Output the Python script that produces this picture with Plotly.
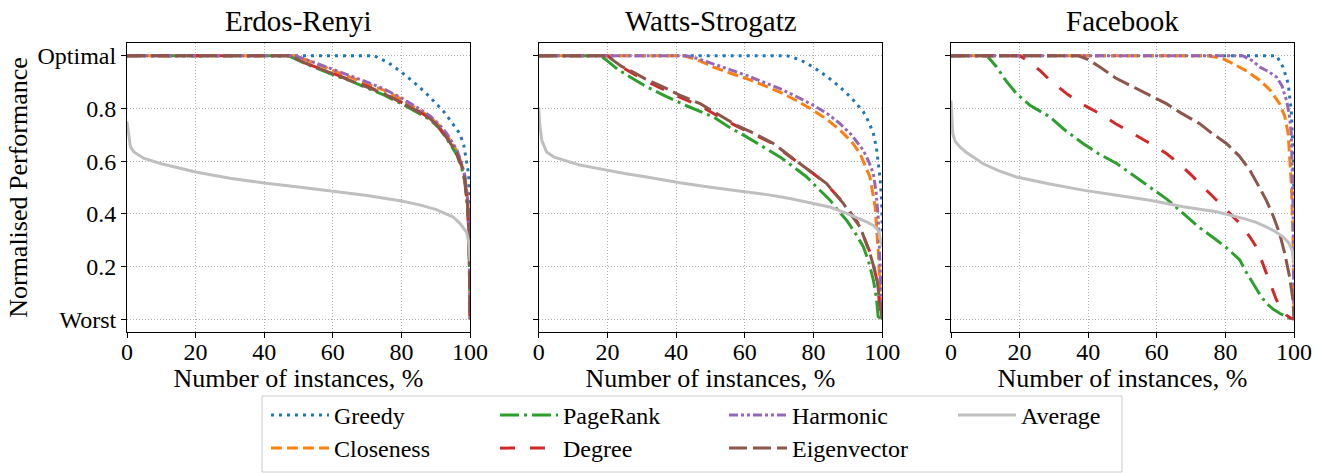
import plotly.graph_objects as go

# ---------------- data ----------------
panels = ["Erdos-Renyi", "Watts-Strogatz", "Facebook"]
series_names = ["Greedy", "Closeness", "PageRank", "Degree", "Harmonic", "Eigenvector", "Average"]

# Erdos-Renyi
er_greedy_x = [0, 72, 76, 80, 84, 87.3, 90, 92.2, 94.5, 97, 98.2, 99, 99.6, 100]
er_greedy_y = [1, 1, 0.975, 0.938, 0.895, 0.856, 0.82, 0.79, 0.75, 0.705, 0.66, 0.60, 0.55, 0.40]
er_close_x = [0, 49, 55, 60, 65, 70, 75, 80, 85, 88.3, 91, 93.2, 96.1, 97.5, 98.5, 99.3, 99.7, 100]
er_close_y = [1, 1, 0.97, 0.945, 0.92, 0.895, 0.868, 0.835, 0.795, 0.768, 0.735, 0.70, 0.64, 0.59, 0.54, 0.45, 0.35, 0.0]
er_pager_x = [0, 47, 52, 56, 60, 65, 70, 75, 80, 85, 88.3, 91, 93.2, 96.1, 97.5, 98.5, 99.3, 99.7, 100]
er_pager_y = [1, 1, 0.97, 0.948, 0.928, 0.905, 0.878, 0.85, 0.818, 0.783, 0.758, 0.725, 0.685, 0.625, 0.58, 0.52, 0.42, 0.32, 0.0]
er_degree_x = [0, 47.5, 52, 56, 60, 65, 70, 75, 80, 85, 88.3, 91, 93.2, 96.1, 97.5, 98.5, 99.3, 99.7, 100]
er_degree_y = [1, 1, 0.972, 0.952, 0.933, 0.91, 0.884, 0.856, 0.824, 0.789, 0.762, 0.728, 0.69, 0.63, 0.585, 0.53, 0.43, 0.33, 0.0]
er_harm_x = [0, 49, 55, 60, 65, 70, 75, 80, 85, 88.3, 91, 93.2, 96.1, 97.5, 98.5, 99.3, 99.7, 100]
er_harm_y = [1, 1, 0.972, 0.948, 0.925, 0.9, 0.873, 0.84, 0.8, 0.772, 0.74, 0.705, 0.645, 0.595, 0.545, 0.46, 0.38, 0.0]
er_eigen_x = [0, 47.5, 52, 56, 60, 65, 70, 75, 80, 85, 88.3, 91, 93.2, 96.1, 97.5, 98.5, 99.3, 99.7, 100]
er_eigen_y = [1, 1, 0.972, 0.952, 0.932, 0.908, 0.883, 0.855, 0.823, 0.788, 0.762, 0.728, 0.69, 0.63, 0.585, 0.53, 0.43, 0.33, 0.0]
er_avg_x = [0, 0.5, 1, 2, 5, 10, 20, 30, 40, 50, 60, 70, 80, 85, 90, 95, 97, 99, 99.7, 100]
er_avg_y = [0.75, 0.69, 0.655, 0.635, 0.61, 0.59, 0.559, 0.535, 0.517, 0.502, 0.487, 0.47, 0.449, 0.435, 0.417, 0.389, 0.365, 0.33, 0.29, 0.22]

# Watts-Strogatz
ws_greedy_x = [0, 72.2, 76, 79.9, 84, 87.7, 91, 94.5, 96, 97.4, 98.3, 98.8, 99.4, 99.8, 100]
ws_greedy_y = [1, 1, 0.985, 0.957, 0.92, 0.881, 0.84, 0.787, 0.75, 0.705, 0.65, 0.604, 0.53, 0.452, 0.33]
ws_close_x = [0, 42, 46, 50.8, 55, 60.5, 65, 70.2, 75, 79.9, 84, 87.7, 91, 93.5, 96.4, 97.9, 98.8, 99.5, 100]
ws_close_y = [1, 1, 0.985, 0.957, 0.937, 0.913, 0.89, 0.862, 0.83, 0.793, 0.757, 0.717, 0.675, 0.629, 0.54, 0.427, 0.263, 0.07, 0.0]
ws_pager_x = [0, 18, 19.8, 23, 26.6, 31, 36.3, 43, 50.8, 55, 60.5, 65, 70.2, 74, 78, 81, 84.8, 87, 89.6, 92, 94.5, 96, 97.4, 98.3, 98.8, 100]
ws_pager_y = [1, 1, 0.982, 0.948, 0.919, 0.885, 0.85, 0.81, 0.768, 0.732, 0.692, 0.658, 0.616, 0.58, 0.54, 0.5, 0.452, 0.415, 0.376, 0.33, 0.275, 0.22, 0.149, 0.08, 0.01, 0.0]
ws_degree_x = [0, 20, 21.7, 24, 27.5, 31, 36.3, 41, 47, 52, 57.6, 63, 68.3, 72, 76, 80, 83.8, 86, 88.7, 91, 93.5, 95, 96.4, 97.5, 98.4, 99.3, 100]
ws_degree_y = [1, 1, 0.982, 0.958, 0.932, 0.905, 0.872, 0.843, 0.81, 0.772, 0.733, 0.7, 0.665, 0.628, 0.59, 0.552, 0.512, 0.48, 0.442, 0.4, 0.355, 0.3, 0.255, 0.2, 0.15, 0.05, 0.0]
ws_harm_x = [0, 43, 46, 50.8, 55, 60.5, 65, 70.2, 75, 79.9, 84, 87.7, 91, 94.5, 96, 97.4, 98.2, 98.8, 99.5, 100]
ws_harm_y = [1, 1, 0.99, 0.97, 0.95, 0.925, 0.902, 0.875, 0.845, 0.812, 0.78, 0.742, 0.7, 0.641, 0.6, 0.553, 0.48, 0.389, 0.15, 0.0]
ws_eigen_x = [0, 20, 21.7, 24, 27.5, 31, 36.3, 41, 47, 52, 57.6, 63, 68.3, 72, 76, 80, 83.8, 86, 88.7, 91, 93.5, 95, 96.4, 97.5, 98.4, 99.3, 100]
ws_eigen_y = [1, 1, 0.982, 0.96, 0.938, 0.912, 0.881, 0.85, 0.818, 0.778, 0.736, 0.703, 0.667, 0.63, 0.591, 0.553, 0.515, 0.48, 0.439, 0.395, 0.351, 0.3, 0.25, 0.2, 0.16, 0.06, 0.0]
ws_avg_x = [0, 0.3, 0.9, 2.3, 4.5, 7.2, 12, 19.8, 25, 31.4, 41.1, 50, 60.5, 67, 73.1, 79.9, 85, 89.6, 93, 95.4, 97.5, 98.8, 100]
ws_avg_y = [0.805, 0.74, 0.679, 0.635, 0.615, 0.604, 0.585, 0.566, 0.553, 0.54, 0.518, 0.501, 0.484, 0.472, 0.458, 0.439, 0.425, 0.402, 0.385, 0.37, 0.355, 0.338, 0.275]

# Facebook
fb_greedy_x = [0, 94.9, 96.8, 98.3, 99.2, 99.7, 100]
fb_greedy_y = [1, 1, 0.957, 0.894, 0.793, 0.641, 0.45]
fb_close_x = [0, 75, 79, 82.2, 86, 90, 93, 95.8, 97.3, 98.3, 99.2, 99.7, 100]
fb_close_y = [1, 1, 0.99, 0.97, 0.943, 0.907, 0.87, 0.818, 0.77, 0.705, 0.515, 0.326, 0.0]
fb_pager_x = [0, 10.5, 13.3, 16, 19.1, 23, 28.8, 33, 38.5, 43, 48.3, 53, 58, 63, 67.7, 72, 77.4, 81, 84.2, 86, 88.1, 90, 91.9, 94, 95.8, 98.7, 100]
fb_pager_y = [1, 1, 0.957, 0.905, 0.856, 0.812, 0.768, 0.72, 0.667, 0.628, 0.591, 0.548, 0.503, 0.455, 0.402, 0.352, 0.301, 0.264, 0.225, 0.18, 0.136, 0.095, 0.061, 0.038, 0.023, 0.004, 0.0]
fb_degree_x = [0, 20, 23, 25.9, 29, 33.7, 38, 43.4, 48, 53.1, 58, 62.8, 67, 70.6, 74, 77.4, 81, 84.2, 87, 89, 90.5, 91.9, 93.5, 94.9, 96.5, 97.8, 99, 100]
fb_degree_y = [1, 1, 0.975, 0.944, 0.905, 0.856, 0.818, 0.78, 0.742, 0.705, 0.667, 0.629, 0.585, 0.54, 0.497, 0.452, 0.408, 0.364, 0.315, 0.275, 0.225, 0.174, 0.12, 0.073, 0.04, 0.016, 0.005, 0.0]
fb_harm_x = [0, 85, 88, 90, 92.5, 94.9, 96.5, 97.8, 98.6, 99.2, 99.7, 100]
fb_harm_y = [1, 1, 0.98, 0.957, 0.94, 0.919, 0.885, 0.831, 0.78, 0.705, 0.45, 0.0]
fb_eigen_x = [0, 37, 40, 43.4, 48, 53.1, 58, 62.8, 67, 72.5, 76, 80.3, 84, 87.1, 89.5, 91.9, 94, 95.8, 97.3, 98.7, 99.7, 100]
fb_eigen_y = [1, 1, 0.985, 0.957, 0.915, 0.881, 0.85, 0.818, 0.783, 0.742, 0.706, 0.667, 0.62, 0.566, 0.51, 0.452, 0.39, 0.326, 0.25, 0.162, 0.073, 0.0]
fb_avg_x = [0, 0.2, 0.5, 1.2, 2.6, 4.5, 6.5, 9.4, 14, 19.1, 28.8, 38.5, 48.3, 58, 67.7, 77.4, 85.1, 89, 91.9, 94.5, 96.8, 98.5, 99.5, 100]
fb_avg_y = [0.83, 0.76, 0.705, 0.675, 0.654, 0.633, 0.616, 0.59, 0.563, 0.54, 0.513, 0.49, 0.471, 0.452, 0.427, 0.408, 0.383, 0.368, 0.351, 0.333, 0.313, 0.29, 0.26, 0.212]

panel_data = [
    [(er_greedy_x, er_greedy_y), (er_close_x, er_close_y), (er_pager_x, er_pager_y), (er_degree_x, er_degree_y),
     (er_harm_x, er_harm_y), (er_eigen_x, er_eigen_y), (er_avg_x, er_avg_y)],
    [(ws_greedy_x, ws_greedy_y), (ws_close_x, ws_close_y), (ws_pager_x, ws_pager_y), (ws_degree_x, ws_degree_y),
     (ws_harm_x, ws_harm_y), (ws_eigen_x, ws_eigen_y), (ws_avg_x, ws_avg_y)],
    [(fb_greedy_x, fb_greedy_y), (fb_close_x, fb_close_y), (fb_pager_x, fb_pager_y), (fb_degree_x, fb_degree_y),
     (fb_harm_x, fb_harm_y), (fb_eigen_x, fb_eigen_y), (fb_avg_x, fb_avg_y)],
]

y_tick_vals = [0, 0.2, 0.4, 0.6, 0.8, 1.0]
y_tick_text = ["Worst", "0.2", "0.4", "0.6", "0.8", "Optimal"]
x_tick_vals = [0, 20, 40, 60, 80, 100]

# ---------------- styles ----------------
colors = ["#1f77b4", "#ff7f0e", "#2ca02c", "#d62728", "#9467bd", "#8c564b", "#bfbfbf"]
dashes = ["3px,5px", "11px,5px", "19px,5px,3px,5px", "15px,15px",
          "9px,3px,3px,3px,3px,3px", "18px,6px", "solid"]
# legend layout (matplotlib ncol=4, column-major): row 1 / row 2
legend_of = ["legend", "legend2", "legend", "legend2", "legend", "legend2", "legend"]
legend_rank = [1, 5, 2, 6, 3, 7, 4]

FONT = "Liberation Serif, Times New Roman, serif"
W, H = 1323, 473
ML, MR, MT, MB = 127, 29, 43, 141
PW = W - ML - MR
PH = H - MT - MB

domains = [[0.0, 343 / PW], [(538.7 - ML) / PW, (882.3 - ML) / PW], [(951 - ML) / PW, 1.0]]

fig = go.Figure()
for p in range(3):
    xa = "x" if p == 0 else f"x{p+1}"
    ya = "y" if p == 0 else f"y{p+1}"
    for s, name in enumerate(series_names):
        xs, ys = panel_data[p][s]
        fig.add_trace(go.Scatter(
            x=xs, y=ys, mode="lines", name=name,
            line=dict(color=colors[s], width=3, dash=dashes[s]),
            showlegend=(p == 0), legend=legend_of[s], legendrank=legend_rank[s],
            xaxis=xa, yaxis=ya,
        ))

axis_common = dict(
    showline=True, linecolor="black", linewidth=1, mirror=True,
    ticks="outside", ticklen=5, tickcolor="black", tickwidth=1,
    showgrid=True, gridcolor="#b0b0b0", griddash="1px,2px", gridwidth=1,
    zeroline=False, automargin=True,
    tickfont=dict(family=FONT, size=24, color="black"),
)

legend_common = dict(
    orientation="h", xref="container", yref="container",
    x=266 / W, xanchor="left", yanchor="top",
    entrywidth=156, entrywidthmode="pixels", itemwidth=58,
    borderwidth=0, bgcolor="rgba(0,0,0,0)",
    font=dict(family=FONT, size=24, color="black"),
    traceorder="normal",
)

layout = dict(
    width=W, height=H,
    margin=dict(l=ML, r=MR, t=MT, b=MB, autoexpand=False),
    paper_bgcolor="white", plot_bgcolor="white",
    font=dict(family=FONT, size=24, color="black"),
    showlegend=True,
    legend=dict(legend_common, y=1 - 393 / H),
    legend2=dict(legend_common, y=1 - 426 / H),
    shapes=[dict(
        type="rect", xref="paper", yref="paper",
        x0=(262 - ML) / PW, x1=(1122 - ML) / PW,
        y0=(H - MB - 472) / PH, y1=(H - MB - 396) / PH,
        line=dict(color="#cccccc", width=1), fillcolor="rgba(0,0,0,0)", layer="below",
    )],
)
for p in range(3):
    sx = "" if p == 0 else str(p + 1)
    layout["xaxis" + sx] = dict(
        axis_common, domain=domains[p], range=[0, 100], tickvals=x_tick_vals,
        anchor="y" + sx, ticklabelstandoff=-7,
        title=dict(text="Number of instances, %", font=dict(family=FONT, size=26, color="black"), standoff=0),
    )
    yd = dict(
        axis_common, domain=[0, 1], range=[-0.048, 1.048], tickvals=y_tick_vals,
        ticktext=y_tick_text, anchor="x" + sx, showticklabels=(p == 0),
    )
    if p == 0:
        yd["title"] = dict(text="Normalised Performance", font=dict(family=FONT, size=26, color="black"), standoff=2)
    else:
        yd["matches"] = "y"
    layout["yaxis" + sx] = yd

fig.update_layout(**layout)

for p in range(3):
    fig.add_annotation(
        text=panels[p], xref="paper", yref="paper",
        x=(domains[p][0] + domains[p][1]) / 2, y=(MT + PH - 21) / PH,
        xanchor="center", yanchor="middle", showarrow=False,
        font=dict(family=FONT, size=29, color="black"),
    )

fig.write_html("out.html", config={"displayModeBar": False},
               post_script="document.body.style.margin='0';")
